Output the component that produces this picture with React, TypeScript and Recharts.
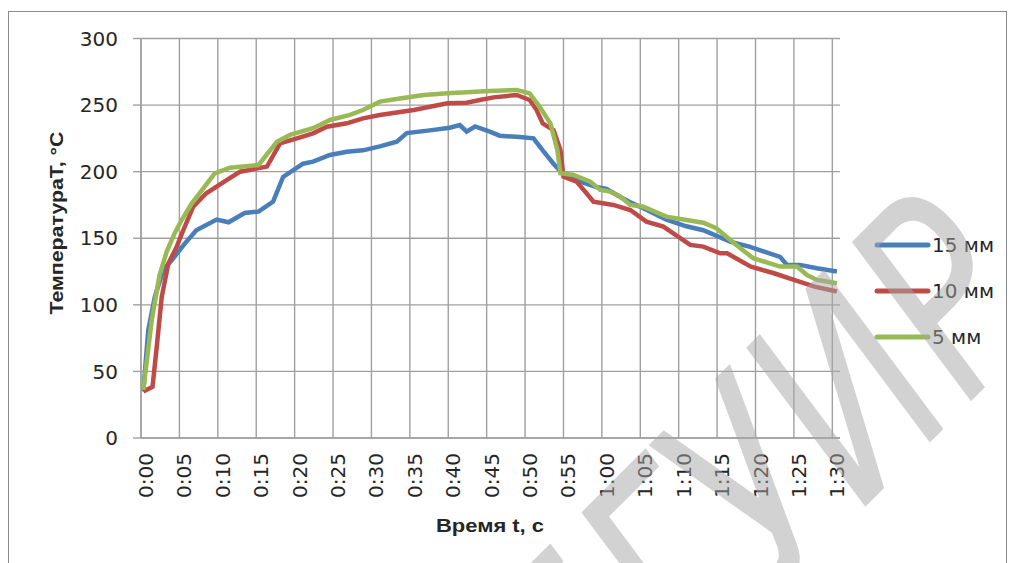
import React from "react";
import { LineChart, Line, XAxis, YAxis, CartesianGrid, Legend } from "recharts";

// time in seconds, temperature in °C
const time15 = [0.3, 0.95, 1.8, 2.9, 4.2, 5.7, 7.2, 8.5, 9.85, 11.4, 13.5, 15.3, 17.2, 18.5, 21.1, 22.4, 24.6, 26.8, 28.9, 31.1, 33.3, 34.6, 37.6, 40.2, 41.5, 42.4, 43.5, 45.4, 46.7, 49.3, 51.1, 52.3, 53.7, 54.8, 57.2, 59.3, 60.6, 62.4, 63.7, 65.4, 68.4, 71, 73.2, 76.7, 79.3, 83.2, 84.1, 85.8, 88, 90.6];
const temp15 = [35, 81, 106, 126, 135, 146, 156, 160, 164, 162, 169, 170, 177.5, 196, 206, 207.5, 212.5, 215, 216, 219, 222.5, 229, 231, 233, 235, 230, 234, 230, 227, 226, 225, 216, 206, 199, 192.5, 188.5, 187, 181, 177, 172.5, 164, 159, 156, 147.5, 143.5, 136, 130, 130, 127.5, 125];

const time10 = [0.3, 1.5, 2.05, 2.7, 3.56, 4.65, 5.5, 6.8, 8.5, 11.2, 12.9, 16.4, 18.1, 20.3, 22.4, 24.2, 26.8, 28.9, 31.1, 35.5, 39.9, 42.4, 44.1, 45.9, 48.9, 50.6, 51.5, 52.3, 53.7, 54.6, 55, 56.7, 58, 58.9, 61.5, 63.7, 65.8, 68, 69.3, 71.5, 73.2, 75.4, 76.3, 79.4, 82.4, 85, 87.7, 90.6];
const temp10 = [35, 38.5, 68.6, 106, 131, 143.7, 156, 173.7, 183.8, 193.8, 200, 203.8, 221.3, 225, 228.8, 233.8, 236.3, 240, 242.6, 246.3, 251.3, 251.8, 253.8, 255.8, 257.6, 253.8, 246.3, 236.3, 231.3, 216.3, 196.2, 192.5, 183.8, 177.5, 175, 171.2, 162.5, 158.7, 153.7, 145, 143.7, 138.7, 138.7, 128.7, 123.7, 118.7, 113.7, 110];

const time5 = [0.3, 1.4, 2.4, 3.35, 4.4, 5.3, 6.6, 9.6, 11.6, 15.3, 17.7, 19.4, 22.4, 24.6, 27.2, 28.9, 31.1, 33.7, 36.8, 39.9, 42.4, 45.4, 48.9, 50.6, 51.9, 53.3, 54.2, 54.6, 56.3, 58.5, 59.8, 61.1, 62.4, 63.7, 65.4, 68.4, 71, 73.2, 74.9, 77.5, 79.7, 83.2, 85.4, 86.7, 88, 90.6];
const temp5 = [36, 88.6, 122, 140, 154, 163.7, 176, 198.8, 203, 205, 222.5, 227.6, 232.6, 238.8, 242.6, 246.3, 252.6, 255, 257.6, 258.8, 259.6, 260.6, 261.4, 258.8, 248.8, 236.3, 216.3, 198.8, 197.5, 192.5, 186.3, 185, 181.3, 175, 173.7, 166.2, 163.7, 161.7, 157.5, 145, 135, 128.7, 128.7, 122.4, 118.7, 116.2];

const seriesNames = ["15 мм", "10 мм", "5 мм"];
const xTicks = [0, 5, 10, 15, 20, 25, 30, 35, 40, 45, 50, 55, 60, 65, 70, 75, 80, 85, 90];
const xTickLabels = ["0:00", "0:05", "0:10", "0:15", "0:20", "0:25", "0:30", "0:35", "0:40", "0:45", "0:50", "0:55", "1:00", "1:05", "1:10", "1:15", "1:20", "1:25", "1:30"];
const yTicks = [0, 50, 100, 150, 200, 250, 300];

const COLORS = ["#4a7ebb", "#be4b48", "#98b954"];
const GRID = "#a0a0a0";
const TEXT = "#262626";
const FONT = "DejaVu Sans";
const TITLE_FONT = "Liberation Sans";

const toRows = (t: number[], v: number[]) => t.map((x, i) => ({ t: x, v: v[i] }));
const series = [toRows(time15, temp15), toRows(time10, temp10), toRows(time5, temp5)];

const XTick = (props: any) => {
  const { x, payload } = props;
  const i = xTicks.indexOf(payload.value);
  const tx = x + 12;
  const ty = 453;
  return (
    <text x={tx} y={ty} transform={`rotate(-90 ${tx} ${ty})`} textAnchor="end"
      fontFamily={FONT} fontSize={20} fill={TEXT}>
      {xTickLabels[i]}
    </text>
  );
};

const LegendBox = () => (
  <svg width={140} height={120}>
    {seriesNames.map((name, i) => (
      <g key={name}>
        <line x1={4} x2={55} y1={13 + i * 46} y2={13 + i * 46} stroke={COLORS[i]} strokeWidth={5} strokeLinecap="round" />
        <text x={59} y={20 + i * 46} fontFamily={FONT} fontSize={20} fill={TEXT}>{name}</text>
      </g>
    ))}
  </svg>
);

export default function App() {
  return (
    <div style={{ position: "absolute", left: 0, top: 0, width: 1014, height: 563, overflow: "hidden", background: "#fff" }}>
      <div style={{ position: "absolute", left: 8, top: 11, width: 997, height: 580, border: "1px solid #8c8c8c" }} />
      <div style={{ position: "absolute", left: 0, top: 0 }}>
        {/* the legend box (140px) is added to the right offset, so right margin = 174 - 140 */}
        <LineChart width={1014} height={563} margin={{ top: 38.5, right: 34, bottom: 65, left: 71 }}>
          <CartesianGrid stroke={GRID} strokeWidth={1.4} horizontalValues={yTicks} verticalValues={xTicks} />
          <XAxis
            dataKey="t"
            type="number"
            domain={[0, 91]}
            ticks={xTicks}
            interval={0}
            height={60}
            tickLine={false}
            axisLine={{ stroke: GRID, strokeWidth: 1.4 }}
            tick={<XTick />}
            label={() => (
              <text x={490} y={532} textAnchor="middle" fontFamily={TITLE_FONT} fontWeight="bold"
                fontSize={19} fill={TEXT} textLength={108} lengthAdjust="spacingAndGlyphs">
                Время t, с
              </text>
            )}
          />
          <YAxis
            type="number"
            domain={[0, 300]}
            ticks={yTicks}
            interval={0}
            width={70}
            tickSize={8}
            tickMargin={15}
            tickLine={{ stroke: GRID, strokeWidth: 1.4 }}
            axisLine={{ stroke: GRID, strokeWidth: 1.4 }}
            tick={{ fontFamily: FONT, fontSize: 20, fill: TEXT }}
            label={() => (
              <text x={63} y={223} transform="rotate(-90 63 223)" textAnchor="middle" fontFamily={TITLE_FONT}
                fontWeight="bold" fontSize={19} fill={TEXT} textLength={183} lengthAdjust="spacingAndGlyphs">
                ТемператураТ, °С
              </text>
            )}
          />
          <Legend
            layout="horizontal"
            verticalAlign="middle"
            align="right"
            content={() => <LegendBox />}
            wrapperStyle={{ position: "absolute", left: 873, top: 232, width: 140, height: 120 }}
          />
          {series.map((rows, i) => (
            <Line
              key={seriesNames[i]}
              data={rows}
              dataKey="v"
              name={seriesNames[i]}
              type="linear"
              stroke={COLORS[i]}
              strokeWidth={4.5}
              dot={false}
              isAnimationActive={false}
            />
          ))}
        </LineChart>
      </div>
      {/* watermark */}
      <svg width={1014} height={563} style={{ position: "absolute", left: 0, top: 0, pointerEvents: "none" }}>
        <text x={760} y={480} transform="rotate(-45 760 480)" textAnchor="middle" dominantBaseline="central"
          fontFamily="DejaVu Sans Condensed, Liberation Sans Narrow, DejaVu Sans" fontStyle="italic"
          fontSize={270} fill="#a6a6a6" fillOpacity={0.5} textLength={640} lengthAdjust="spacingAndGlyphs">
          БГУИР
        </text>
      </svg>
    </div>
  );
}
